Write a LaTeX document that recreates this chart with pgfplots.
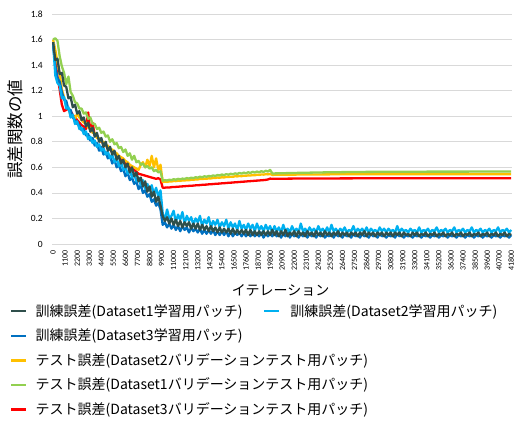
\documentclass[border=0pt]{standalone}
\usepackage{pgfplots}
\usepackage{pgfplotstable}
\pgfplotsset{compat=1.18}
\usepackage{fontspec}
\setmainfont{Noto Sans CJK JP}
\newfontfamily\tickfont{Carlito}
\definecolor{cdark}{HTML}{2F4F4B}
\definecolor{clblue}{HTML}{00B0F0}
\definecolor{cblue}{HTML}{0070C0}
\definecolor{cyellow}{HTML}{FFC000}
\definecolor{cgreen}{HTML}{92D050}
\definecolor{cred}{HTML}{FF0000}
\definecolor{cgrid}{HTML}{D9D9D9}

\pgfplotstableread{
x d l b
0 1.58 1.58 1.56
200 1.44 1.32 1.39
400 1.45 1.26 1.30
600 1.33 1.24 1.27
800 1.34 1.14 1.19
1000 1.24 1.15 1.13
1200 1.23 1.06 1.12
1400 1.14 1.07 1.05
1600 1.15 0.99 1.05
1800 1.07 1.01 0.99
2000 1.09 0.94 0.97
2200 1.02 0.96 0.94
2400 1.04 0.90 0.93
2600 0.97 0.91 0.89
2800 0.99 0.86 0.90
3000 0.92 0.88 0.85
3200 0.95 0.82 0.86
3400 0.88 0.84 0.81
3600 0.91 0.79 0.83
3800 0.84 0.81 0.77
4000 0.87 0.76 0.79
4200 0.80 0.78 0.73
4400 0.83 0.73 0.76
4600 0.76 0.75 0.70
4800 0.80 0.70 0.72
5000 0.73 0.72 0.67
5200 0.76 0.67 0.69
5400 0.70 0.70 0.63
5600 0.73 0.64 0.66
5800 0.66 0.67 0.60
6000 0.69 0.61 0.62
6200 0.63 0.64 0.57
6400 0.66 0.58 0.59
6600 0.60 0.60 0.53
6800 0.63 0.55 0.56
7000 0.56 0.58 0.50
7200 0.60 0.52 0.52
7400 0.53 0.55 0.47
7600 0.56 0.49 0.49
7800 0.49 0.52 0.43
8000 0.52 0.46 0.46
8200 0.45 0.50 0.40
8400 0.49 0.43 0.42
8600 0.41 0.47 0.37
8800 0.45 0.42 0.39
9000 0.37 0.46 0.33
9200 0.41 0.39 0.35
9400 0.33 0.44 0.30
9600 0.37 0.37 0.32
9800 0.30 0.42 0.27
10000 0.22 0.24 0.15
10200 0.18 0.19 0.17
10400 0.21 0.27 0.13
10600 0.16 0.20 0.16
10800 0.20 0.22 0.12
11000 0.15 0.26 0.15
11200 0.19 0.17 0.11
11400 0.14 0.23 0.14
11600 0.18 0.19 0.10
11800 0.13 0.25 0.14
12000 0.17 0.16 0.11
12200 0.14 0.22 0.13
12400 0.17 0.18 0.09
12600 0.12 0.21 0.13
12800 0.16 0.15 0.10
13000 0.12 0.20 0.12
13200 0.16 0.17 0.09
13400 0.11 0.22 0.12
13600 0.15 0.14 0.08
13800 0.11 0.19 0.11
14000 0.14 0.16 0.08
14200 0.10 0.21 0.11
14400 0.14 0.13 0.08
14600 0.10 0.18 0.11
14800 0.13 0.15 0.07
15000 0.09 0.19 0.10
15200 0.13 0.13 0.07
15400 0.09 0.17 0.10
15600 0.12 0.14 0.07
15800 0.09 0.19 0.10
16000 0.12 0.12 0.06
16200 0.08 0.17 0.10
16400 0.12 0.13 0.06
16600 0.08 0.16 0.09
16800 0.11 0.11 0.07
17000 0.08 0.18 0.09
17200 0.11 0.12 0.06
17400 0.08 0.15 0.09
17600 0.11 0.11 0.06
17800 0.07 0.16 0.09
18000 0.11 0.12 0.06
18200 0.07 0.15 0.09
18400 0.10 0.10 0.06
18600 0.07 0.16 0.08
18800 0.10 0.11 0.06
19000 0.07 0.14 0.09
19200 0.10 0.10 0.05
19400 0.07 0.15 0.08
19600 0.10 0.11 0.06
19800 0.07 0.14 0.08
20000 0.11 0.09 0.06
20200 0.07 0.14 0.09
20400 0.10 0.10 0.06
20600 0.06 0.13 0.08
20800 0.10 0.09 0.05
21000 0.07 0.15 0.08
21200 0.11 0.10 0.06
21400 0.06 0.12 0.09
21600 0.09 0.09 0.05
21800 0.07 0.14 0.08
22000 0.10 0.10 0.06
22200 0.06 0.12 0.08
22400 0.10 0.09 0.05
22600 0.07 0.16 0.08
22800 0.09 0.10 0.06
23000 0.06 0.12 0.09
23200 0.10 0.09 0.05
23400 0.07 0.13 0.08
23600 0.09 0.10 0.06
23800 0.06 0.12 0.08
24000 0.10 0.09 0.05
24200 0.07 0.14 0.08
24400 0.09 0.10 0.06
24600 0.06 0.12 0.08
24800 0.10 0.09 0.05
25000 0.07 0.13 0.07
25200 0.09 0.09 0.06
25400 0.06 0.15 0.08
25600 0.09 0.10 0.05
25800 0.07 0.12 0.08
26000 0.10 0.09 0.06
26200 0.06 0.12 0.07
26400 0.09 0.10 0.05
26600 0.07 0.13 0.08
26800 0.09 0.09 0.06
27000 0.06 0.11 0.07
27200 0.09 0.10 0.05
27400 0.07 0.14 0.08
27600 0.09 0.09 0.06
27800 0.06 0.12 0.07
28000 0.09 0.10 0.05
28200 0.07 0.12 0.08
28400 0.10 0.09 0.06
28600 0.06 0.13 0.07
28800 0.09 0.09 0.05
29000 0.07 0.12 0.08
29200 0.09 0.10 0.06
29400 0.06 0.11 0.07
29600 0.09 0.09 0.05
29800 0.07 0.13 0.08
30000 0.09 0.10 0.06
30200 0.06 0.12 0.07
30400 0.09 0.09 0.05
30600 0.07 0.12 0.07
30800 0.09 0.10 0.06
31000 0.06 0.11 0.07
31200 0.09 0.09 0.05
31400 0.07 0.14 0.08
31600 0.09 0.09 0.06
31800 0.06 0.12 0.07
32000 0.09 0.10 0.05
32200 0.07 0.11 0.07
32400 0.08 0.09 0.06
32600 0.06 0.12 0.07
32800 0.09 0.10 0.05
33000 0.07 0.11 0.07
33200 0.09 0.09 0.06
33400 0.06 0.13 0.07
33600 0.08 0.09 0.05
33800 0.07 0.11 0.07
34000 0.09 0.10 0.06
34200 0.06 0.12 0.07
34400 0.08 0.09 0.05
34600 0.07 0.11 0.07
34800 0.09 0.10 0.06
35000 0.06 0.13 0.07
35200 0.08 0.09 0.05
35400 0.07 0.11 0.07
35600 0.09 0.10 0.06
35800 0.06 0.12 0.07
36000 0.08 0.09 0.05
36200 0.07 0.11 0.07
36400 0.09 0.10 0.06
36600 0.06 0.13 0.07
36800 0.08 0.09 0.05
37000 0.07 0.11 0.07
37200 0.09 0.10 0.06
37400 0.06 0.12 0.07
37600 0.08 0.09 0.05
37800 0.07 0.11 0.07
38000 0.09 0.10 0.06
38200 0.06 0.13 0.07
38400 0.08 0.09 0.05
38600 0.07 0.11 0.07
38800 0.09 0.10 0.06
39000 0.06 0.12 0.07
39200 0.08 0.09 0.05
39400 0.07 0.11 0.07
39600 0.09 0.10 0.06
39800 0.06 0.12 0.07
40000 0.08 0.09 0.05
40200 0.07 0.11 0.07
40400 0.09 0.10 0.06
40600 0.06 0.13 0.07
40800 0.08 0.09 0.05
41000 0.07 0.11 0.07
41200 0.09 0.10 0.06
41400 0.06 0.12 0.07
41600 0.08 0.09 0.05
41800 0.07 0.11 0.07
}\train

\pgfplotstableread{
x y g r
0 1.60 1.60 1.56
200 1.52 1.61 1.44
400 1.42 1.59 1.31
600 1.33 1.47 1.21
800 1.21 1.39 1.09
1000 1.15 1.34 1.04
1200 1.08 1.25 1.05
1400 1.06 1.31 1.06
1600 1.01 1.19 1.04
1800 1.01 1.16 1.01
2000 0.98 1.11 0.99
2200 1.02 1.10 0.97
2400 0.99 1.06 0.95
2600 0.97 1.06 0.93
2800 0.95 1.02 0.92
3000 0.95 1.03 0.90
3200 0.91 0.98 1.03
3400 0.91 0.99 0.88
3600 0.87 0.94 0.95
3800 0.87 0.94 0.85
4000 0.83 0.90 0.84
4200 0.83 0.91 0.82
4400 0.80 0.87 0.80
4600 0.80 0.88 0.79
4800 0.77 0.84 0.77
5000 0.77 0.85 0.75
5200 0.74 0.80 0.74
5400 0.74 0.82 0.72
5600 0.72 0.78 0.71
5800 0.71 0.79 0.69
6000 0.69 0.75 0.68
6200 0.68 0.76 0.66
6400 0.67 0.72 0.65
6600 0.65 0.74 0.63
6800 0.64 0.69 0.62
7000 0.62 0.71 0.60
7200 0.61 0.66 0.59
7400 0.60 0.69 0.58
7600 0.59 0.64 0.565
7800 0.58 0.65 0.55
8000 0.62 0.62 0.545
8200 0.64 0.63 0.54
8400 0.60 0.60 0.535
8600 0.66 0.61 0.53
8800 0.61 0.59 0.525
9000 0.69 0.60 0.52
9200 0.60 0.57 0.515
9400 0.67 0.58 0.51
9600 0.58 0.56 0.515
9800 0.62 0.57 0.505
10000 0.485 0.495 0.440
10200 0.488 0.500 0.441
10400 0.486 0.497 0.443
10600 0.490 0.503 0.442
10800 0.489 0.500 0.445
11000 0.493 0.507 0.446
11200 0.492 0.503 0.447
11400 0.495 0.510 0.448
11600 0.494 0.506 0.450
11800 0.498 0.512 0.451
12000 0.497 0.509 0.452
12200 0.500 0.516 0.454
12400 0.499 0.512 0.455
12600 0.503 0.519 0.456
12800 0.502 0.515 0.457
13000 0.506 0.523 0.459
13200 0.505 0.519 0.460
13400 0.509 0.527 0.461
13600 0.508 0.522 0.463
13800 0.511 0.530 0.464
14000 0.510 0.526 0.465
14200 0.514 0.533 0.467
14400 0.513 0.529 0.468
14600 0.517 0.537 0.469
14800 0.516 0.532 0.471
15000 0.520 0.540 0.472
15200 0.519 0.536 0.473
15400 0.522 0.544 0.475
15600 0.521 0.539 0.476
15800 0.525 0.547 0.477
16000 0.524 0.542 0.479
16200 0.527 0.550 0.480
16400 0.526 0.545 0.481
16600 0.530 0.553 0.483
16800 0.529 0.548 0.484
17000 0.532 0.556 0.485
17200 0.531 0.551 0.487
17400 0.535 0.559 0.488
17600 0.534 0.553 0.489
17800 0.537 0.562 0.491
18000 0.536 0.556 0.492
18200 0.539 0.565 0.493
18400 0.538 0.559 0.495
18600 0.542 0.567 0.496
18800 0.541 0.561 0.497
19000 0.544 0.570 0.499
19200 0.543 0.564 0.500
19400 0.546 0.573 0.502
19600 0.545 0.567 0.505
19800 0.548 0.580 0.512
20000 0.541 0.552 0.510
22000 0.543 0.556 0.512
25000 0.545 0.561 0.513
28000 0.546 0.564 0.514
32000 0.547 0.566 0.515
41800 0.547 0.567 0.515
}\test

\begin{document}
\begin{tikzpicture}
\useasboundingbox (0,0) rectangle (518bp,426bp);
\begin{axis}[
  at={(52bp,182bp)}, anchor=south west,
  width=460bp, height=230bp, scale only axis,
  xmin=-100, xmax=41870, ymin=0, ymax=1.8,
  ytick={0,0.2,0.4,0.6,0.8,1,1.2,1.4,1.6,1.8},
  xtick={0,1100,...,41800},
  scaled x ticks=false,
  ymajorgrids, grid style={color=cgrid, line width=0.75bp},
  axis line style={draw=none},
  major tick length=0pt,
  no markers,
  /pgf/number format/assume math mode=true,
  yticklabel style={font=\tickfont\fontsize{9.5bp}{9.5bp}\selectfont, inner sep=0pt, xshift=-9bp, anchor=east},
  xticklabel style={font=\tickfont\fontsize{8bp}{8bp}\selectfont, yshift=-6bp, rotate=90, anchor=east, inner sep=0pt, /pgf/number format/.cd, fixed, precision=0, 1000 sep={}},
  ylabel={誤差関数の値},
  ylabel style={font=\fontsize{16.5bp}{16.5bp}\selectfont, at={(axis description cs:-0.0804,0.5)}, anchor=center},
  xlabel={イテレーション},
  xlabel style={font=\fontsize{14bp}{14bp}\selectfont, at={(axis description cs:0.497,-0.2)}, anchor=center},
  legend cell align=left,
  legend image code/.code={\draw[#1, line width=2.5bp] (0bp,0bp) -- (15bp,0bp);},
  legend style={draw=none, fill=none, at={(-0.0913,-0.265)}, anchor=north west,
    inner sep=0pt, row sep=12.6bp, column sep=8bp,
    font=\fontsize{14bp}{14bp}\selectfont,
    nodes={inner sep=0pt, text height=11bp, text depth=1bp}},
]
\addplot[cred, line width=2.3bp, line join=round, forget plot] table[x=x, y=r] {\test};
\addplot[cyellow, line width=2.3bp, line join=round, forget plot] table[x=x, y=y] {\test};
\addplot[cgreen, line width=2.3bp, line join=round, forget plot] table[x=x, y=g] {\test};
\addplot[cblue, line width=2.3bp, line join=round, forget plot] table[x=x, y=b] {\train};
\addplot[clblue, line width=2.3bp, line join=round, forget plot] table[x=x, y=l] {\train};
\addplot[cdark, line width=2.3bp, line join=round, forget plot] table[x=x, y=d] {\train};

\addlegendimage{cdark}
\addlegendentry{訓練誤差(Dataset1学習用パッチ)\hspace{22bp}{\color{clblue}\rule[3.75bp]{15bp}{2.5bp}}\hspace{11bp}訓練誤差(Dataset2学習用パッチ)}
\addlegendimage{cblue}
\addlegendentry{訓練誤差(Dataset3学習用パッチ)}
\addlegendimage{cyellow}
\addlegendentry{テスト誤差(Dataset2バリデーションテスト用パッチ)}
\addlegendimage{cgreen}
\addlegendentry{テスト誤差(Dataset1バリデーションテスト用パッチ)}
\addlegendimage{cred}
\addlegendentry{テスト誤差(Dataset3バリデーションテスト用パッチ)}
\end{axis}
\end{tikzpicture}
\end{document}
